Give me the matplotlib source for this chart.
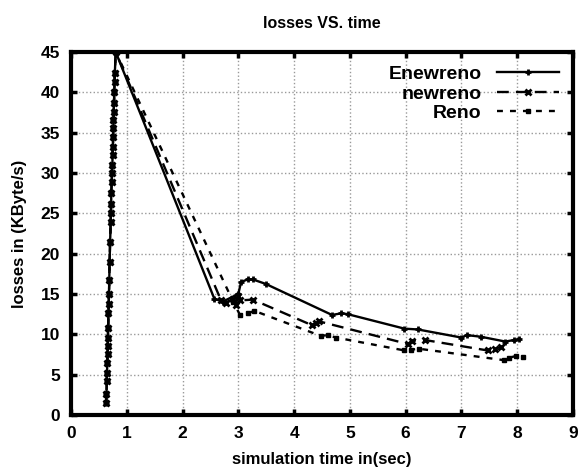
import matplotlib
matplotlib.use('Agg')
import matplotlib.pyplot as plt

plt.rcParams['font.family'] = ['Liberation Sans', 'DejaVu Sans']

# rising part shared by all three runs
rise_x = [0.63, 0.635, 0.64, 0.645, 0.65, 0.655, 0.66, 0.66, 0.665, 0.67, 0.675, 0.68,
          0.685, 0.69, 0.70, 0.71, 0.715, 0.72, 0.72, 0.73, 0.735, 0.74, 0.745, 0.75,
          0.755, 0.76, 0.76, 0.765, 0.77, 0.775, 0.78, 0.785, 0.80]
rise_y = [1.5, 2.6, 4.2, 5.2, 6.5, 7.6, 8.6, 9.6, 10.8, 12.6, 13.8, 15.0,
          16.7, 18.9, 21.4, 23.9, 25.0, 26.2, 27.5, 28.9, 30.0, 31.0, 32.2, 33.2,
          34.5, 35.6, 36.6, 37.6, 38.7, 40.0, 41.3, 42.4, 45.0]

enew_x = [2.57, 2.72, 3.0, 3.05, 3.17, 3.26, 3.49, 4.68, 4.85, 4.96, 5.98, 6.22,
          7.0, 7.1, 7.35, 7.79, 7.95, 8.04]
enew_y = [14.4, 14.05, 15.0, 16.5, 16.8, 16.8, 16.25, 12.4, 12.6, 12.5, 10.7, 10.6,
          9.6, 9.9, 9.7, 9.1, 9.3, 9.4]

new_x = [2.69, 2.78, 2.9, 2.95, 3.0, 3.03, 3.26, 4.33, 4.4, 4.45, 6.04, 6.12, 6.34,
         7.47, 7.6, 7.71]
new_y = [14.2, 13.9, 14.4, 13.6, 14.8, 14.2, 14.3, 11.1, 11.4, 11.6, 8.8, 9.2, 9.3,
         8.0, 8.2, 8.45]

reno_x = [2.91, 3.03, 3.17, 3.29, 4.48, 4.6, 4.75, 5.98, 6.1, 6.25, 7.76, 7.85,
          7.98, 8.1]
reno_y = [14.0, 12.4, 12.6, 12.9, 9.8, 9.9, 9.6, 8.0, 8.1, 8.2, 6.8, 7.1,
          7.3, 7.2]

fig = plt.figure(figsize=(5.78, 4.74), dpi=100)
ax = fig.add_axes([0.123, 0.1245, 0.868, 0.766])

ax.plot(rise_x + enew_x, rise_y + enew_y, color='black', lw=1.7, ls='-',
        marker='+', ms=5, mew=2, label='Enewreno')
ax.plot(rise_x + new_x, rise_y + new_y, color='black', lw=1.7, ls=(0, (5, 3)),
        marker='x', ms=4, mew=2, label='newreno')
ax.plot(rise_x + reno_x, rise_y + reno_y, color='black', lw=1.7, ls=(0, (2.5, 3)),
        marker='s', ms=3.5, label='Reno')

ax.set_xlim(0, 9)
ax.set_ylim(0, 45)
ax.set_xticks(range(0, 10))
ax.set_yticks(range(0, 46, 5))
ax.grid(True, color='#999999', ls=':', lw=1)
for s in ax.spines.values():
    s.set_linewidth(3)
ax.tick_params(direction='in', length=4, width=2.5, top=True, right=True,
               labelsize=12.5, pad=8)
for lab in ax.get_xticklabels() + ax.get_yticklabels():
    lab.set_fontweight('bold')

ax.set_title('losses VS. time', fontsize=11.5, fontweight='bold', pad=17)
ax.set_xlabel('simulation time in(sec)', fontsize=12, fontweight='bold', labelpad=8)
ax.set_ylabel('losses in (KByte/s)', fontsize=12, fontweight='bold', labelpad=10)

ax.legend(loc='upper right', frameon=False, markerfirst=False, handlelength=3.2,
          prop={'size': 14, 'weight': 'bold'}, borderaxespad=0.3, labelspacing=0.1)

fig.savefig('out.png', dpi=100)
